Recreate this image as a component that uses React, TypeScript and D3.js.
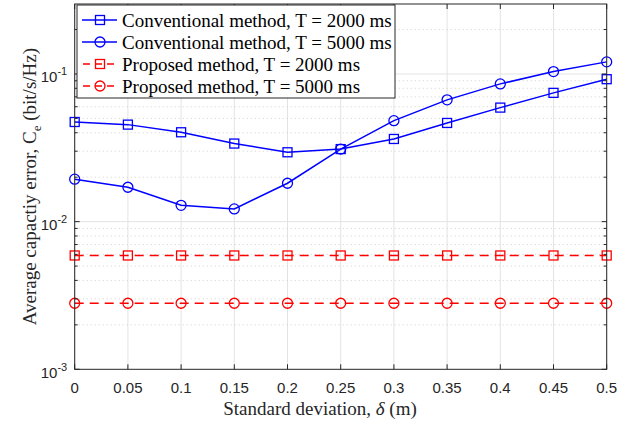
import React, { useEffect, useRef } from 'react';
import * as d3 from 'd3';

const sigma = [0, 0.05, 0.1, 0.15, 0.2, 0.25, 0.3, 0.35, 0.4, 0.45, 0.5];
const xTickLabels = ['0', '0.05', '0.1', '0.15', '0.2', '0.25', '0.3', '0.35', '0.4', '0.45', '0.5'];
const conv2000 = [0.0473, 0.0454, 0.0403, 0.0338, 0.0295, 0.031, 0.0363, 0.0466, 0.0592, 0.0745, 0.0922];
const conv5000 = [0.0194, 0.0171, 0.0129, 0.0122, 0.0182, 0.031, 0.0483, 0.0668, 0.0857, 0.1038, 0.1208];
const prop2000 = [0.0059, 0.0059, 0.0059, 0.0059, 0.0059, 0.0059, 0.0059, 0.0059, 0.0059, 0.0059, 0.0059];
const prop5000 = [0.0028, 0.0028, 0.0028, 0.0028, 0.0028, 0.0028, 0.0028, 0.0028, 0.0028, 0.0028, 0.0028];
const yDecades = [-3, -2, -1];

const series = [
  { name: 'Conventional method, T = 2000 ms', values: conv2000, color: '#0000ff', marker: 'square', dash: null },
  { name: 'Conventional method, T = 5000 ms', values: conv5000, color: '#0000ff', marker: 'circle', dash: null },
  { name: 'Proposed method, T = 2000 ms', values: prop2000, color: '#ff0000', marker: 'square', dash: '9,6' },
  { name: 'Proposed method, T = 5000 ms', values: prop5000, color: '#ff0000', marker: 'circle', dash: '9,6' },
];

const App = () => {
  const ref = useRef<SVGSVGElement>(null);

  useEffect(() => {
    const svg = d3.select(ref.current);
    svg.selectAll('*').remove();

    const left = 74.7, right = 606.7, top = 4, bottom = 369.3;
    const x = d3.scaleLinear().domain([0, 0.5]).range([left, right]);
    const y = d3.scaleLog().domain([1e-3, Math.pow(10, -0.526)]).range([bottom, top]);
    const axisColor = '#262626';

    svg.append('rect').attr('x', left).attr('y', top).attr('width', right - left).attr('height', bottom - top).attr('fill', '#fff');

    // grid
    const grid = svg.append('g');
    sigma.forEach((s) => {
      grid.append('line').attr('x1', x(s)).attr('x2', x(s)).attr('y1', top).attr('y2', bottom)
        .attr('stroke', '#e3e3e3').attr('stroke-width', 1);
    });
    yDecades.forEach((d) => {
      for (let m = 2; m <= 9; m++) {
        const v = m * Math.pow(10, d);
        if (v > y.domain()[1]) continue;
        grid.append('line').attr('x1', left).attr('x2', right).attr('y1', y(v)).attr('y2', y(v))
          .attr('stroke', '#cfcfcf').attr('stroke-width', 1).attr('stroke-dasharray', '1,3');
      }
      if (d > -3) {
        grid.append('line').attr('x1', left).attr('x2', right).attr('y1', y(Math.pow(10, d))).attr('y2', y(Math.pow(10, d)))
          .attr('stroke', '#e3e3e3').attr('stroke-width', 1);
      }
    });

    // series
    const line = d3.line<number>().x((_, i) => x(sigma[i])).y((v) => y(v));
    series.forEach((s) => {
      svg.append('path').datum(s.values).attr('d', line).attr('fill', 'none')
        .attr('stroke', s.color).attr('stroke-width', 1.5)
        .attr('stroke-dasharray', s.dash);
      const g = svg.append('g');
      s.values.forEach((v, i) => {
        if (s.marker === 'square') {
          g.append('rect').attr('x', x(sigma[i]) - 4.5).attr('y', y(v) - 4.5).attr('width', 9).attr('height', 9)
            .attr('fill', 'none').attr('stroke', s.color).attr('stroke-width', 1.3);
        } else {
          g.append('circle').attr('cx', x(sigma[i])).attr('cy', y(v)).attr('r', 5)
            .attr('fill', 'none').attr('stroke', s.color).attr('stroke-width', 1.3);
        }
      });
    });

    // axes box & ticks
    const ax = svg.append('g').attr('stroke', axisColor).attr('stroke-width', 1);
    ax.append('rect').attr('x', left).attr('y', top).attr('width', right - left).attr('height', bottom - top).attr('fill', 'none');
    sigma.forEach((s) => {
      ax.append('line').attr('x1', x(s)).attr('x2', x(s)).attr('y1', bottom).attr('y2', bottom - 5);
      ax.append('line').attr('x1', x(s)).attr('x2', x(s)).attr('y1', top).attr('y2', top + 5);
    });
    yDecades.forEach((d) => {
      for (let m = 1; m <= 9; m++) {
        const v = m * Math.pow(10, d);
        if (v > y.domain()[1]) continue;
        const len = m === 1 ? 5 : 3;
        ax.append('line').attr('x1', left).attr('x2', left + len).attr('y1', y(v)).attr('y2', y(v));
        ax.append('line').attr('x1', right).attr('x2', right - len).attr('y1', y(v)).attr('y2', y(v));
      }
    });

    // tick labels
    const tf = '"Liberation Sans", Arial, sans-serif';
    sigma.forEach((s, i) => {
      svg.append('text').attr('x', x(s)).attr('y', bottom + 23.4).attr('text-anchor', 'middle')
        .attr('font-family', tf).attr('font-size', 15).attr('fill', axisColor).text(xTickLabels[i]);
    });
    yDecades.forEach((d) => {
      const t = svg.append('text').attr('x', left - 7.5).attr('y', y(Math.pow(10, d)) + 8.5).attr('text-anchor', 'end')
        .attr('font-family', tf).attr('font-size', 15).attr('fill', axisColor);
      t.append('tspan').text('10');
      t.append('tspan').attr('dy', -7).attr('font-size', 11).text(String(d));
    });

    // axis labels
    const sf = '"Liberation Serif", "Times New Roman", serif';
    const xl = svg.append('text').attr('x', 320).attr('y', 415).attr('text-anchor', 'middle')
      .attr('font-family', sf).attr('font-size', 19).attr('fill', axisColor);
    xl.append('tspan').text('Standard deviation, ');
    xl.append('tspan').attr('font-style', 'italic').text('δ');
    xl.append('tspan').text(' (m)');

    const yl = svg.append('text').attr('transform', `translate(36, ${(top + bottom) / 2}) rotate(-90)`)
      .attr('text-anchor', 'middle').attr('font-family', sf).attr('font-size', 19).attr('fill', axisColor);
    yl.append('tspan').text('Average capactiy error, C');
    yl.append('tspan').attr('dy', 5).attr('font-size', 13).text('e');
    yl.append('tspan').attr('dy', -5).text(' (bit/s/Hz)');

    // legend
    const lg = svg.append('g');
    lg.append('rect').attr('x', 77).attr('y', 5).attr('width', 318).attr('height', 93)
      .attr('fill', '#fff').attr('stroke', axisColor).attr('stroke-width', 1);
    series.forEach((s, i) => {
      const ly = 20 + i * 22;
      lg.append('line').attr('x1', 82).attr('x2', 117).attr('y1', ly).attr('y2', ly)
        .attr('stroke', s.color).attr('stroke-width', 1.5).attr('stroke-dasharray', s.dash ? '7,5' : null)
        .attr('stroke-dashoffset', s.dash ? -1 : 0);
      if (s.marker === 'square') {
        lg.append('rect').attr('x', 95.5).attr('y', ly - 4.5).attr('width', 9).attr('height', 9)
          .attr('fill', 'none').attr('stroke', s.color).attr('stroke-width', 1.3);
      } else {
        lg.append('circle').attr('cx', 100).attr('cy', ly).attr('r', 5)
          .attr('fill', 'none').attr('stroke', s.color).attr('stroke-width', 1.3);
      }
      lg.append('text').attr('x', 122).attr('y', ly + 6.5).attr('font-family', sf).attr('font-size', 19)
        .attr('fill', '#000').text(s.name);
    });
  }, []);

  return <svg ref={ref} width={631} height={429} style={{ position: 'absolute', left: 0, top: 0 }} />;
};

export default App;
